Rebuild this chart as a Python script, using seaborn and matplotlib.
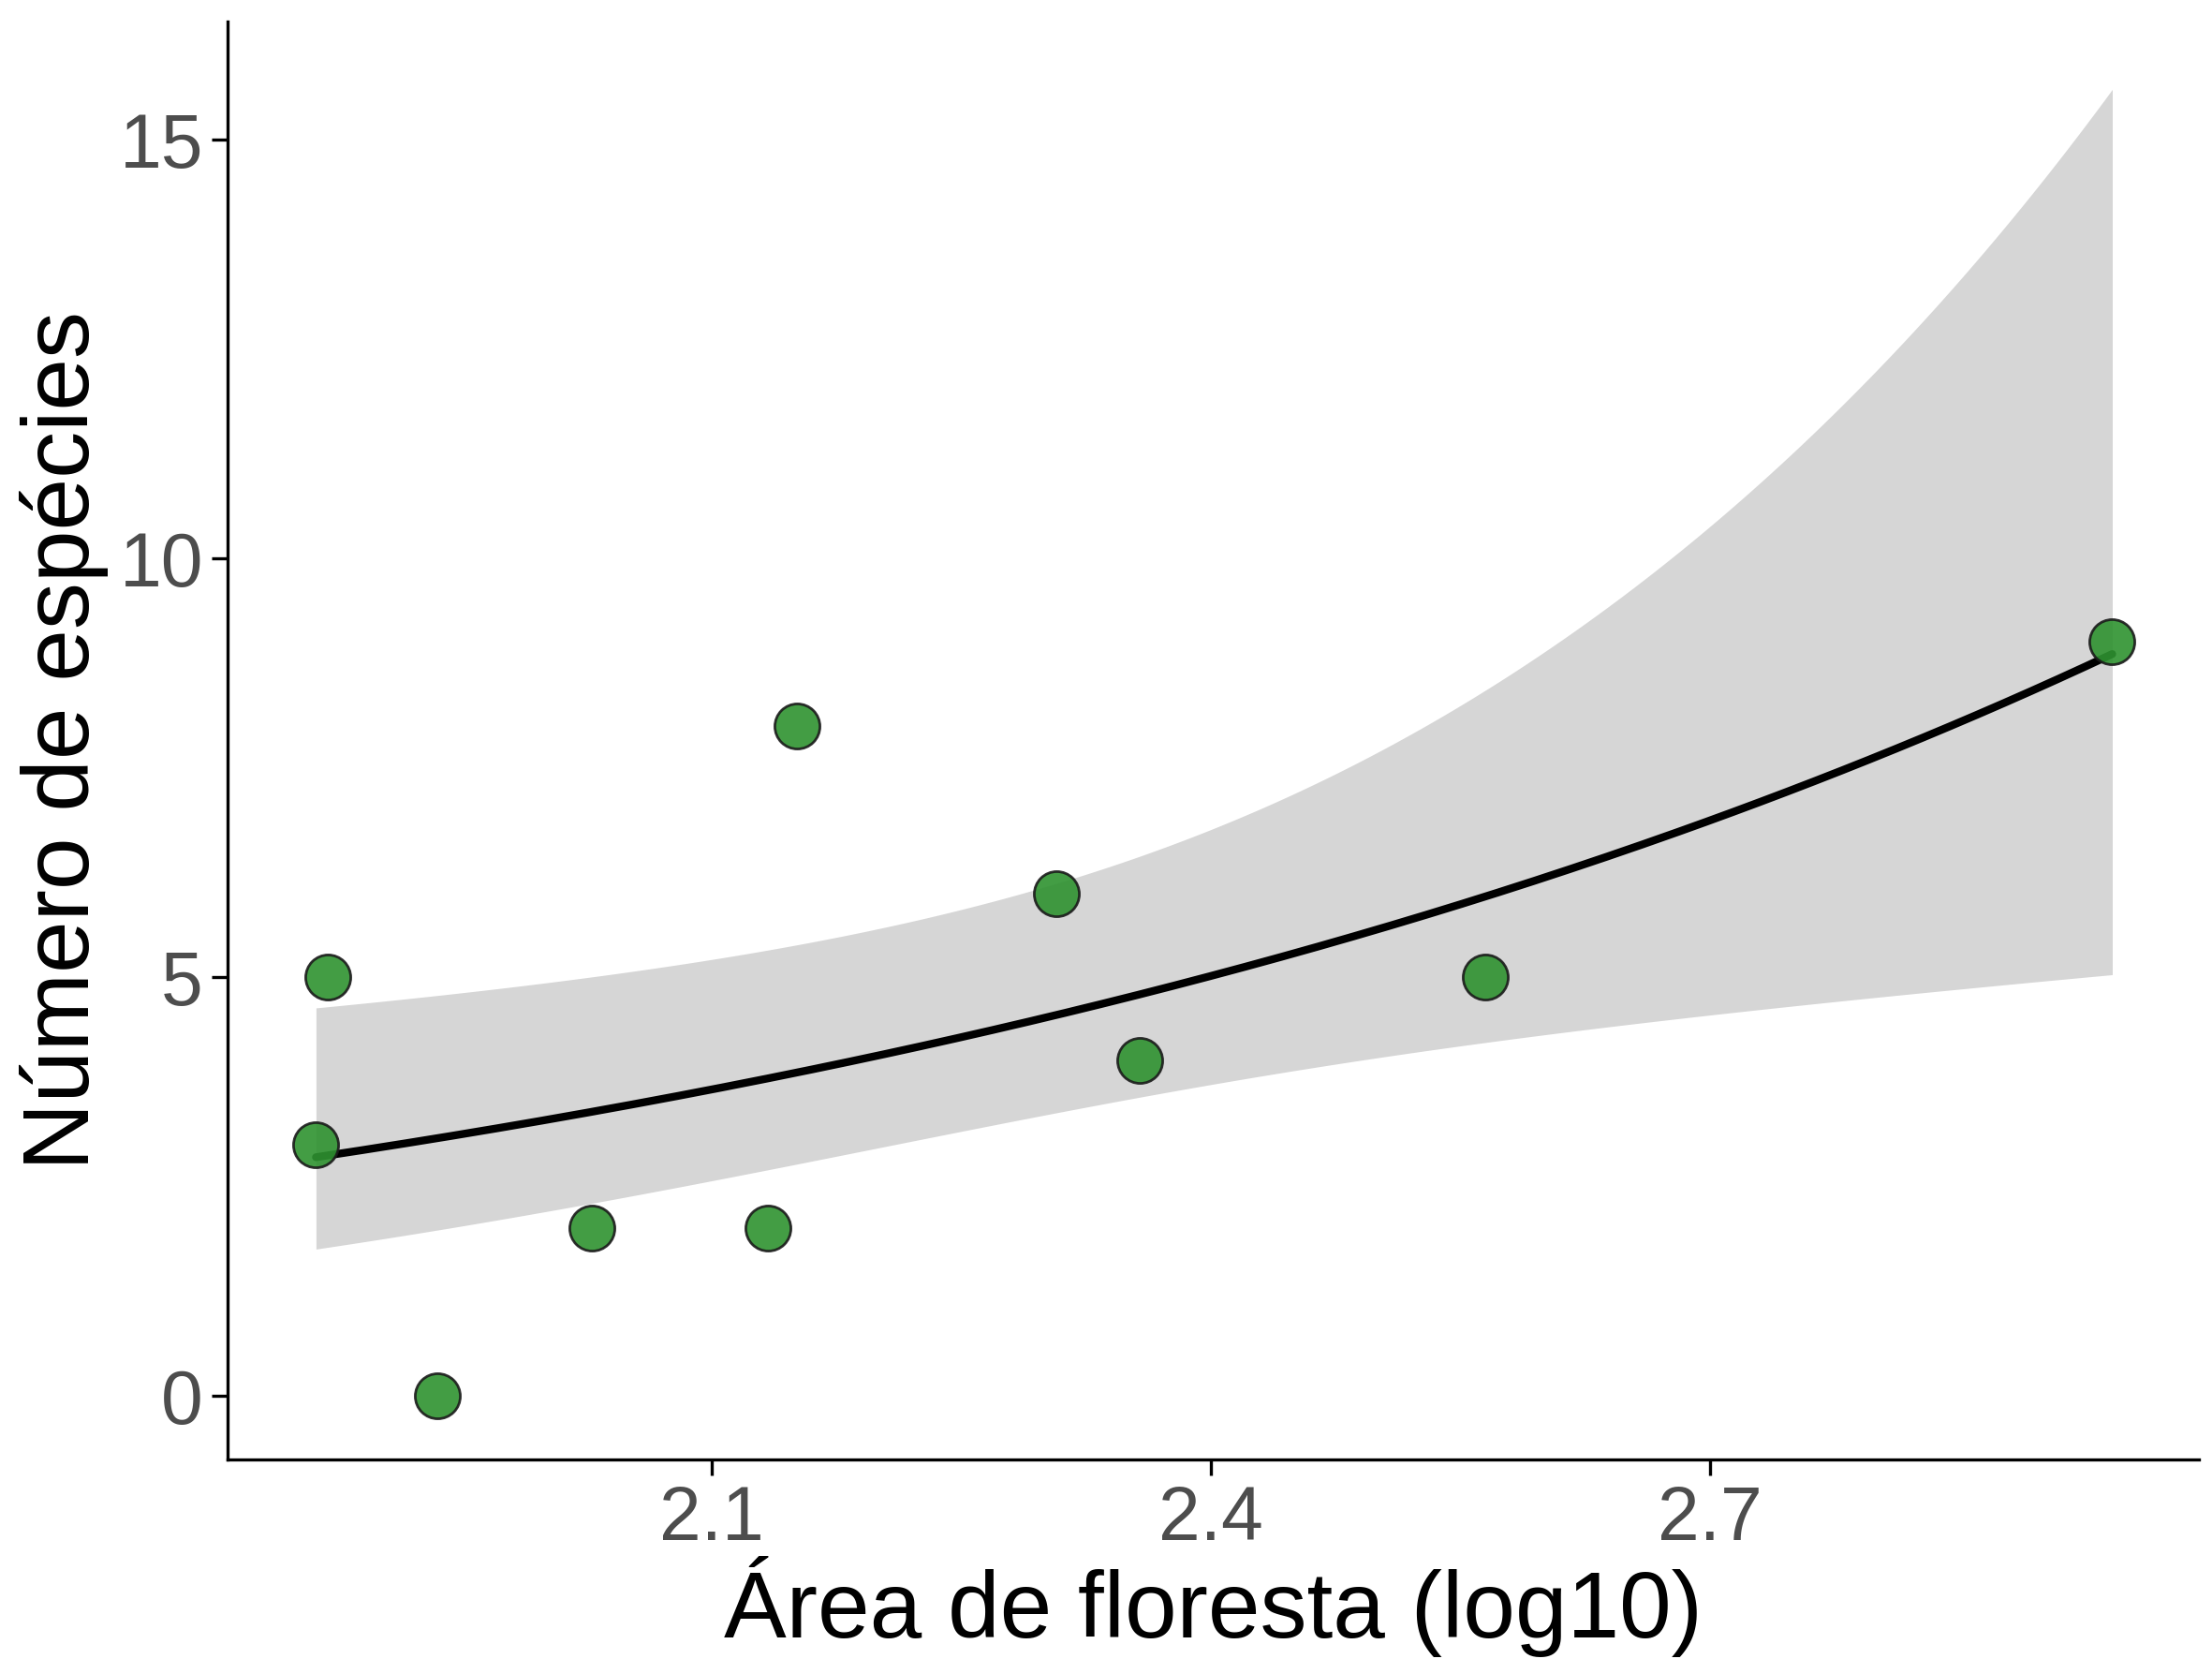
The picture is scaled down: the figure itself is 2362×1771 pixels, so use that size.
import numpy as np
import pandas as pd
import matplotlib
matplotlib.use("Agg")
import matplotlib.pyplot as plt
import seaborn as sns

area_log10 = [1.862, 1.869, 1.935, 2.028, 2.134, 2.151, 2.307, 2.357, 2.565, 2.942]
n_species = [3, 5, 0, 2, 2, 8, 6, 4, 5, 9]
df = pd.DataFrame({"x": area_log10, "y": n_species})

# Poisson GLM via IRLS
X = np.column_stack([np.ones(len(df)), df.x.values])
yv = df.y.values.astype(float)
beta = np.array([np.log(yv.mean() + 0.1), 0.0])
for _ in range(50):
    eta = X @ beta
    mu = np.exp(eta)
    z = eta + (yv - mu) / mu
    W = mu
    XtW = X.T * W
    beta = np.linalg.solve(XtW @ X, XtW @ z)
mu = np.exp(X @ beta)
cov = np.linalg.inv((X.T * mu) @ X)
xs = np.linspace(df.x.min(), df.x.max(), 200)
Xs = np.column_stack([np.ones_like(xs), xs])
eta_s = Xs @ beta
se = np.sqrt(np.einsum("ij,jk,ik->i", Xs, cov, Xs))
fit = np.exp(eta_s)
lo, hi = np.exp(eta_s - 1.96 * se), np.exp(eta_s + 1.96 * se)

sns.set_theme(style="ticks")
plt.rcParams['font.family'] = ['Liberation Sans', 'DejaVu Sans']
fig = plt.figure(figsize=(11.81, 8.855), dpi=200)
ax = fig.add_axes([0.103, 0.12, 0.891, 0.867])
ax.fill_between(xs, lo, hi, color="#d6d6d6", lw=0, zorder=1)
sns.lineplot(x=xs, y=fit, color="black", lw=3, ax=ax, zorder=2)
sns.scatterplot(data=df, x="x", y="y", s=300, color="#2e9230", alpha=0.9,
                edgecolor="#1a1a1a", linewidth=1.0, ax=ax, zorder=3)
ax.set_xlim(1.809, 2.994)
ax.set_ylim(-0.765, 16.41)
ax.set_xticks([2.1, 2.4, 2.7])
ax.set_yticks([0, 5, 10, 15])
ax.tick_params(labelsize=29, labelcolor="#4d4d4d", width=1.2, length=6, color="black")
for s in ["top", "right"]:
    ax.spines[s].set_visible(False)
for s in ["left", "bottom"]:
    ax.spines[s].set_linewidth(1.2)
    ax.spines[s].set_color("black")
ax.set_xlabel("Área de floresta (log10)", fontsize=36, color="black", labelpad=0)
ax.set_ylabel("Número de espécies", fontsize=36, color="black", labelpad=4)
fig.savefig("out.png", dpi=200)
